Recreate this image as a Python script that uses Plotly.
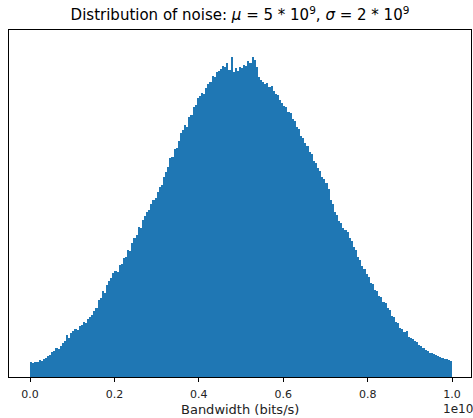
import plotly.graph_objects as go

# Histogram bin heights (relative count units), 200 equal bins over [0, 1e10]
counts = [
    15, 14, 15, 15, 17, 16, 18, 19, 21, 22,
    25, 26, 29, 28, 31, 34, 36, 42, 39, 44,
    46, 48, 47, 51, 52, 55, 54, 58, 60, 62,
    66, 69, 77, 79, 86, 84, 92, 96, 99, 104,
    106, 105, 112, 113, 119, 120, 127, 126, 134, 139,
    142, 150, 149, 157, 161, 165, 167, 173, 177, 179,
    185, 190, 192, 200, 205, 210, 219, 220, 228, 229,
    236, 244, 247, 252, 250, 260, 262, 270, 272, 279,
    281, 284, 283, 289, 293, 295, 301, 300, 305, 306,
    308, 311, 310, 314, 307, 320, 305, 309, 306, 310,
    309, 312, 311, 316, 314, 320, 317, 310, 300, 297,
    295, 293, 294, 290, 291, 286, 283, 282, 277, 274,
    271, 270, 265, 264, 258, 256, 250, 248, 241, 239,
    234, 231, 225, 223, 216, 214, 209, 206, 200, 198,
    194, 188, 177, 173, 165, 162, 156, 154, 149, 147,
    145, 139, 136, 130, 127, 120, 117, 111, 108, 103,
    100, 94, 93, 87, 86, 81, 80, 75, 74, 69,
    67, 61, 60, 55, 54, 49, 48, 45, 46, 40,
    39, 38, 36, 35, 32, 31, 29, 27, 26, 24,
    24, 23, 22, 21, 20, 19, 18, 18, 17, 16,
]
bin_start = 0.0
bin_end = 1e10
tick_values = [0, 0.2e10, 0.4e10, 0.6e10, 0.8e10, 1.0e10]
tick_labels = ["0.0", "0.2", "0.4", "0.6", "0.8", "1.0"]

n = len(counts)
w = (bin_end - bin_start) / n
centers = [bin_start + w * (i + 0.5) for i in range(n)]

fig = go.Figure(go.Bar(
    x=centers, y=counts, width=[w] * n,
    marker=dict(color="#1f77b4", line=dict(width=0)),
))

font = "DejaVu Sans"
fig.update_layout(
    width=473, height=418,
    margin=dict(l=9, r=2, t=30, b=41),
    paper_bgcolor="white", plot_bgcolor="white",
    bargap=0, showlegend=False,
    font=dict(family=font, size=11, color="black"),
    title=dict(
        text="Distribution of noise: <i>μ</i> = 5 * 10<sup>9</sup>, <i>σ</i> = 2 * 10<sup>9</sup>",
        x=0.5, xref="paper", xanchor="center", y=0.965, yanchor="middle",
        font=dict(family=font, size=15, color="black"),
    ),
    xaxis=dict(
        range=[-0.5e9, 10.45e9], showgrid=False, zeroline=False, automargin=False,
        tickmode="array", tickvals=tick_values, ticktext=tick_labels,
        ticks="outside", ticklen=4, tickcolor="black", tickwidth=1,
        ticklabelstandoff=3,
        showline=True, linecolor="black", linewidth=1, mirror=True,
        tickfont=dict(family=font, size=11, color="#222"),
    ),
    yaxis=dict(
        range=[0, 347], showgrid=False, zeroline=False, automargin=False,
        showticklabels=False, ticks="",
        showline=True, linecolor="black", linewidth=1, mirror=True,
    ),
)
fig.add_annotation(
    text="Bandwidth (bits/s)", x=0.5, xref="paper", y=-0.093, yref="paper",
    xanchor="center", yanchor="middle", showarrow=False,
    font=dict(family=font, size=13, color="#222"),
)
fig.add_annotation(
    text="1e10", x=0.975e10, xref="x", y=-0.093, yref="paper",
    xanchor="left", yanchor="middle", showarrow=False,
    font=dict(family=font, size=12, color="#222"),
)
fig.write_html("out.html")
